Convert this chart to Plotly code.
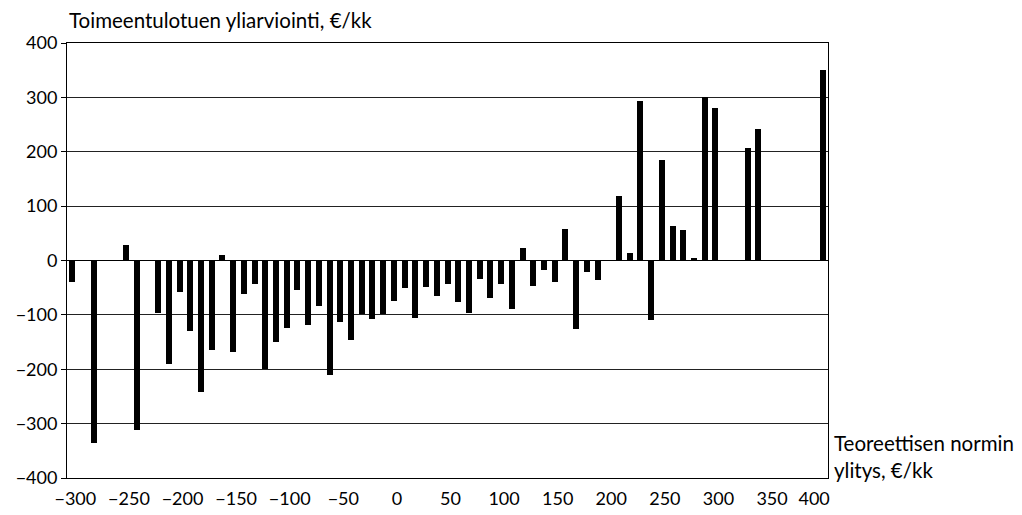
import plotly.graph_objects as go

# Data: excess over theoretical norm (€/kk) vs. overestimation of income support (€/kk)
norm_excess = [-300, -280, -250, -240, -220, -210, -200, -190, -180, -170, -160, -150,
               -140, -130, -120, -110, -100, -90, -80, -70, -60, -50, -40, -30, -20, -10,
               0, 10, 20, 30, 40, 50, 60, 70, 80, 90, 100, 110, 120, 130, 140, 150, 160,
               170, 180, 190, 210, 220, 230, 240, 250, 260, 270, 280, 290, 300, 330, 340, 400]
overestimate = [-40, -335, 28, -311, -97, -190, -58, -129, -242, -164, 11, -168,
                -62, -44, -199, -149, -124, -54, -119, -84, -210, -113, -147, -98, -108, -99,
                -75, -51, -106, -48, -65, -44, -76, -97, -34, -69, -44, -89, 23, -47, -18, -39, 58,
                -126, -22, -35, 119, 14, 294, -110, 184, 64, 56, 4, 300, 280, 207, 242, 350]

x_ticks = list(range(-300, 401, 50))
y_ticks = list(range(-400, 401, 100))

FONT = "Lato"
TICK_SIZE = 18
LABEL_SIZE = 20.5

x_ticktext = [str(v).replace("-", "\u2212") for v in x_ticks]
# last label sits slightly left of its tick in the reference
x_ticktext[-1] = x_ticktext[-1] + "\u00a0" * 5

fig = go.Figure()
fig.add_trace(go.Bar(
    x=norm_excess, y=overestimate,
    marker=dict(color="black", line=dict(width=0)),
    width=5.6,
))

fig.update_layout(
    width=1022, height=515,
    margin=dict(l=67, r=194, t=43, b=37, autoexpand=False),
    paper_bgcolor="white", plot_bgcolor="white",
    showlegend=False,
    font=dict(family=FONT, size=TICK_SIZE, color="black"),
    bargap=0,
)

fig.update_xaxes(
    range=[-305, 405],
    tickvals=x_ticks,
    ticktext=x_ticktext,
    showgrid=False, zeroline=False,
    showline=True, linecolor="black", linewidth=1, mirror=True,
    ticks="", ticklabelshift=3, ticklabelstandoff=4,
    tickfont=dict(family=FONT, size=TICK_SIZE),
)
fig.update_yaxes(
    range=[-400, 400],
    tickvals=y_ticks,
    ticktext=[str(v).replace("-", "\u2212") for v in y_ticks],
    showgrid=True, gridcolor="#222222", gridwidth=1,
    zeroline=True, zerolinecolor="black", zerolinewidth=1,
    showline=True, linecolor="black", linewidth=1, mirror=True,
    ticks="outside", ticklen=5, tickcolor="black",
    tickfont=dict(family=FONT, size=TICK_SIZE),
)

fig.add_annotation(
    text="Toimeentulotuen yliarviointi, €/kk",
    xref="paper", yref="paper", x=0, y=1, yshift=23,
    xanchor="left", yanchor="middle", showarrow=False,
    font=dict(family=FONT, size=LABEL_SIZE, color="black"),
)
fig.add_annotation(
    text="Teoreettisen normin<br>ylitys, €/kk",
    xref="paper", yref="paper", x=1, y=0, xshift=4, yshift=22,
    xanchor="left", yanchor="middle", align="left", showarrow=False,
    font=dict(family=FONT, size=LABEL_SIZE, color="black"),
)

fig.write_html("out.html", config={"displayModeBar": False},
               post_script="document.body.style.margin='0px';")
